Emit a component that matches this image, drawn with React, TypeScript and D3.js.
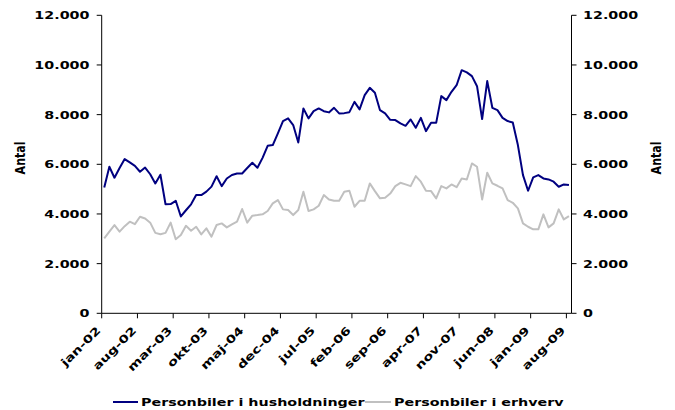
import React from 'react';
import * as d3 from 'd3';

// --- data (monthly, jan-02 .. aug-09) ---
const monthNames = ['jan', 'feb', 'mar', 'apr', 'maj', 'jun', 'jul', 'aug', 'sep', 'okt', 'nov', 'dec'];
const years = ['02', '03', '04', '05', '06', '07', '08', '09'];
const categories: string[] = years.flatMap(y => monthNames.map(m => `${m}-${y}`)).slice(0, 92);

const husholdninger = [
  5070, 5900, 5460, 5850, 6210, 6075, 5940, 5700, 5870, 5600, 5230, 5580,
  4390, 4400, 4530, 3900, 4150, 4390, 4760, 4760, 4900, 5100, 5520, 5120,
  5430, 5570, 5630, 5630, 5850, 6060, 5860, 6260, 6745, 6775, 7245, 7740,
  7850, 7580, 6880, 8250, 7850, 8140, 8250, 8140, 8090, 8275, 8050, 8060,
  8100, 8515, 8210, 8785, 9080, 8880, 8180, 8050, 7790, 7780, 7645, 7550,
  7805, 7470, 7870, 7335, 7670, 7670, 8745, 8585, 8920, 9185, 9790, 9700,
  9550, 9145, 7820, 9350, 8275, 8180, 7870, 7740, 7685, 6775, 5565, 4935,
  5475, 5565, 5430, 5390, 5300, 5095, 5190, 5165,
];
const erhverv = [
  3020, 3290, 3550, 3290, 3510, 3690, 3590, 3890, 3820, 3650, 3240, 3180,
  3240, 3650, 2980, 3150, 3525, 3325, 3485, 3180, 3420, 3085, 3555, 3620,
  3460, 3580, 3690, 4200, 3650, 3930, 3955, 3985, 4120, 4425, 4560, 4185,
  4157, 3955, 4157, 4895, 4120, 4185, 4330, 4760, 4585, 4530, 4530, 4895,
  4935, 4290, 4530, 4530, 5230, 4920, 4630, 4650, 4820, 5120, 5255, 5190,
  5120, 5525, 5300, 4935, 4920, 4630, 5120, 5030, 5190, 5080, 5430, 5390,
  6035, 5900, 4585, 5660, 5230, 5135, 5030, 4560, 4450, 4225, 3620, 3485,
  3380, 3380, 3985, 3460, 3620, 4185, 3780, 3915,
];
const series = [
  { name: 'Personbiler i husholdninger', values: husholdninger, color: '#000080' },
  { name: 'Personbiler i erhverv', values: erhverv, color: '#C0C0C0' },
];
const yTicks = [0, 2000, 4000, 6000, 8000, 10000, 12000];
const labelEvery = 7;

// --- layout ---
const W = 675, H = 410;
const left = 101.7, right = 571.5, top = 15.3, bottom = 313.3;
const FONT = "'DejaVu Sans', Verdana, sans-serif";
const SX = 1.3; // text in the source is stretched horizontally

const fmt = d3.formatLocale({ decimal: ',', thousands: '.', grouping: [3], currency: ['', ''] }).format(',d');

export default function App() {
  const x = d3.scaleBand<string>().domain(categories).range([left, right]).padding(0);
  const y = d3.scaleLinear().domain([0, 12000]).range([bottom, top]);
  const cx = (i: number) => (x(categories[i]) as number) + x.bandwidth() / 2;
  const line = d3.line<number>().x((_, i) => cx(i)).y(d => y(d));

  const tickIdx = d3.range(0, categories.length, labelEvery);
  const txt = { fontFamily: FONT, fontWeight: 'bold' as const, fontSize: 11, fill: '#000' };

  return (
    <svg width={W} height={H} style={{ position: 'absolute', left: 0, top: 0, background: '#fff' }}>
      {/* series */}
      {series.slice().reverse().map(s => (
        <path key={s.name} d={line(s.values) || ''} fill="none" stroke={s.color} strokeWidth={2} strokeLinejoin="round" />
      ))}

      {/* left axis */}
      <line x1={left} x2={left} y1={top} y2={bottom} stroke="#000" strokeWidth={1} />
      {yTicks.map(t => (
        <g key={'l' + t}>
          <line x1={left - 5} x2={left} y1={y(t)} y2={y(t)} stroke="#000" />
          <text {...txt} textAnchor="end" transform={`translate(${89.5},${y(t) + 4}) scale(${SX},1)`}>{fmt(t)}</text>
        </g>
      ))}
      {/* right axis */}
      <line x1={right} x2={right} y1={top} y2={bottom} stroke="#000" strokeWidth={1} />
      {yTicks.map(t => (
        <g key={'r' + t}>
          <line x1={right} x2={right + 5} y1={y(t)} y2={y(t)} stroke="#000" />
          <text {...txt} textAnchor="start" transform={`translate(${583},${y(t) + 4}) scale(${SX},1)`}>{fmt(t)}</text>
        </g>
      ))}
      {/* bottom axis */}
      <line x1={left} x2={right} y1={bottom} y2={bottom} stroke="#000" strokeWidth={1} />
      {tickIdx.map(i => (
        <line key={'xt' + i} x1={x(categories[i]) as number} x2={x(categories[i]) as number} y1={bottom} y2={bottom + 5} stroke="#000" />
      ))}
      {tickIdx.map(i => (
        <text key={'xl' + i} {...txt} textAnchor="end"
          transform={`translate(${cx(i) - 3},${bottom + 18}) rotate(-45) scale(1.3,1)`}>{categories[i]}</text>
      ))}

      {/* axis titles */}
      <text {...txt} textAnchor="middle" transform={`translate(${25},${158}) scale(${SX},1) rotate(-90)`}>Antal</text>
      <text {...txt} textAnchor="middle" transform={`translate(${661},${158}) scale(${SX},1) rotate(-90)`}>Antal</text>

      {/* legend */}
      <line x1={113} x2={138} y1={402} y2={402} stroke={series[0].color} strokeWidth={2} />
      <text {...txt} transform={`translate(${141},${406}) scale(${SX},1)`}>{series[0].name}</text>
      <line x1={365} x2={391} y1={402} y2={402} stroke={series[1].color} strokeWidth={2} />
      <text {...txt} transform={`translate(${394},${406}) scale(${SX},1)`}>{series[1].name}</text>
    </svg>
  );
}
